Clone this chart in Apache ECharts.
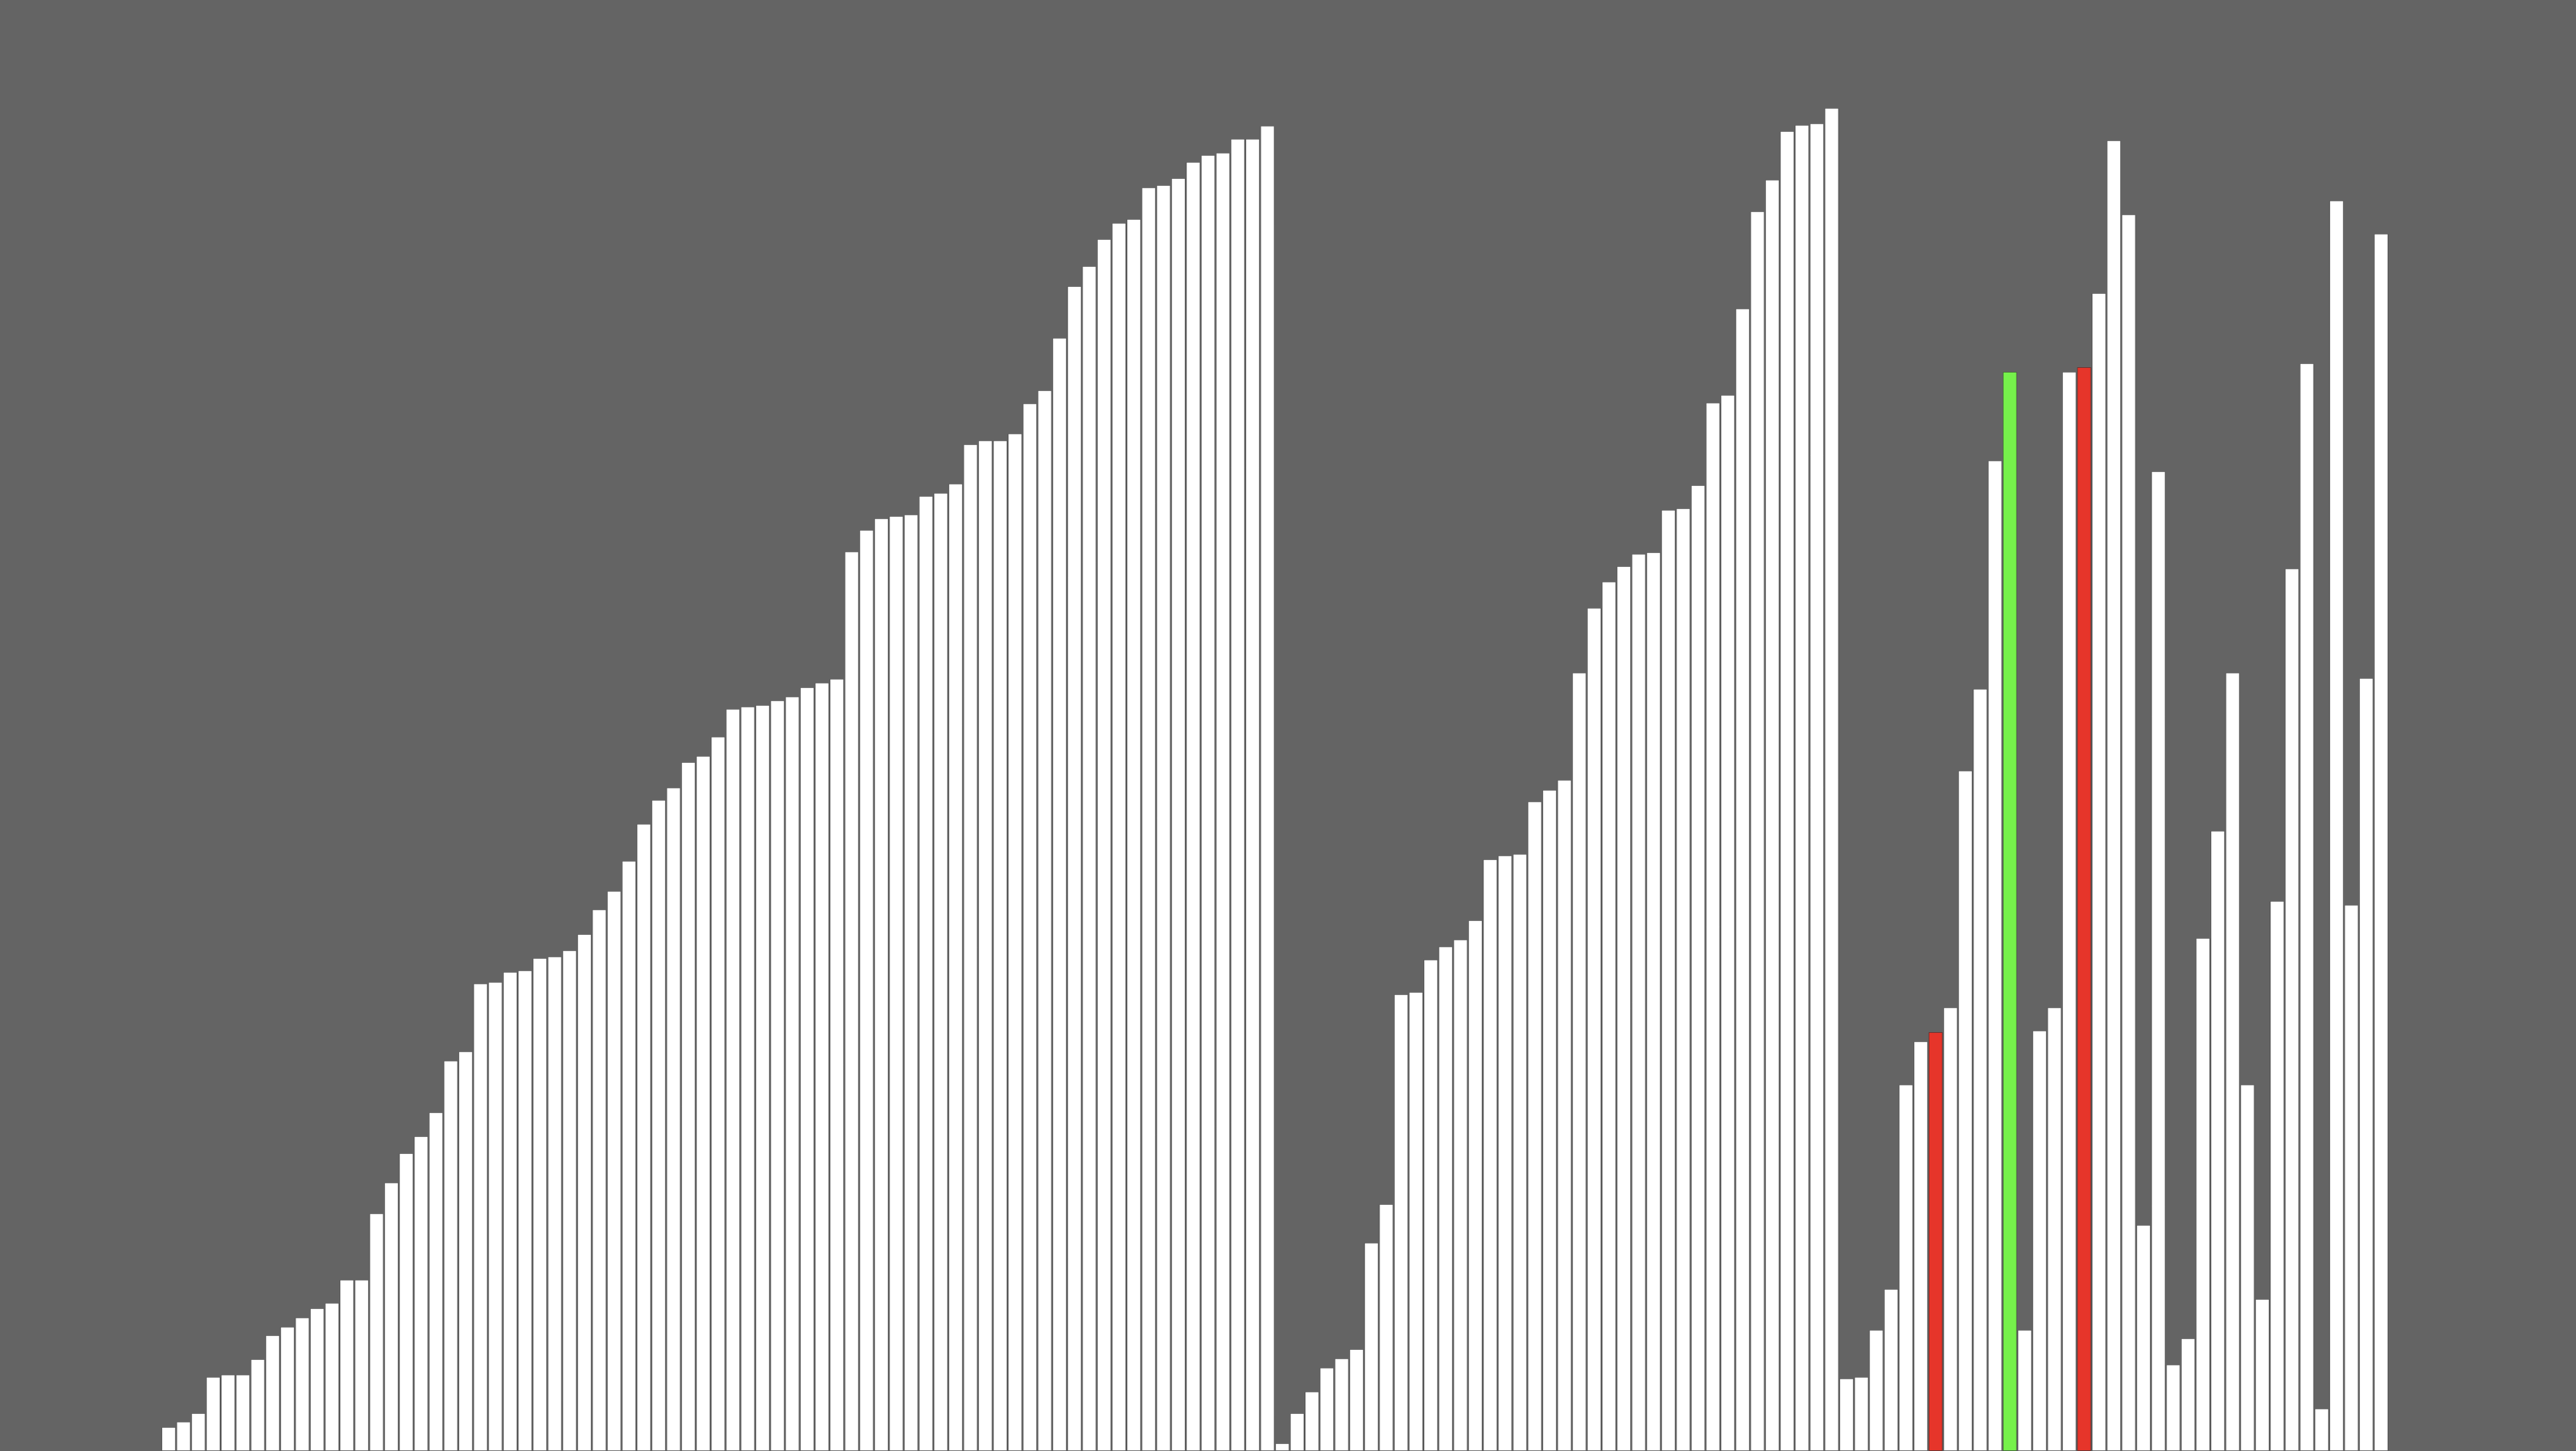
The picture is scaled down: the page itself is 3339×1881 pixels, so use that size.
<!DOCTYPE html>
<html>
<head>
<meta charset="utf-8">
<script src="https://cdn.jsdelivr.net/npm/echarts@6/dist/echarts.min.js"></script>
<style>
  html, body { margin: 0; padding: 0; background: #646464; }
  #chart { width: 3339px; height: 1881px; }
</style>
</head>
<body>
<div id="chart"></div>
<script>
// Bar heights (units: pixels of the 1881-px plot height)
const runSortedA = [31, 38, 49, 96, 99, 99, 119, 150, 161, 173, 185, 192, 222, 222, 308, 348, 386, 408, 439, 506,
  518, 606, 608, 621, 623, 639, 641, 649, 670, 702, 726, 765, 813, 844, 860, 893, 901, 926, 962, 965,
  967, 973, 978, 990, 996, 1001, 1166, 1194, 1209, 1212, 1214, 1238, 1242, 1254, 1305, 1310, 1310, 1319, 1358, 1375,
  1443, 1510, 1536, 1571, 1592, 1597, 1638, 1641, 1650, 1671, 1680, 1683, 1701, 1701, 1718];
const runSortedB = [10, 49, 77, 108, 120, 132, 270, 320, 592, 595, 637, 654, 663, 688, 767, 772, 774, 842, 857, 870,
  1009, 1093, 1127, 1147, 1163, 1165, 1220, 1222, 1252, 1359, 1369, 1481, 1607, 1648, 1711, 1719, 1721, 1741];
const runUnsorted = [94, 96, 157, 210, 475, 531, 543, 575, 882, 988, 1284, 1399, 157, 545, 575, 1399, 1405, 1501, 1699, 1603,
  293, 1270, 112, 146, 665, 804, 1009, 475, 197, 713, 1144, 1410, 55, 1621, 708, 1002, 1578];

const values = runSortedA.concat(runSortedB, runUnsorted);
const categories = values.map((v, i) => String(i + 1));

// highlighted bars (0-based positions)
const redIndices = [119, 129];
const greenIndices = [124];

const plotMax = 1881;
const bgColor = '#646464';
const barColor = '#ffffff';
const redColor = '#e6352a';
const greenColor = '#76f14b';

const seriesData = values.map((v, i) => {
  let c = barColor;
  if (redIndices.includes(i)) c = redColor;
  if (greenIndices.includes(i)) c = greenColor;
  return { value: v, itemStyle: { color: c } };
});

const chart = echarts.init(document.getElementById('chart'), null, { renderer: 'canvas' });
chart.setOption({
  backgroundColor: bgColor,
  animation: false,
  grid: { left: 209, right: 243, top: 0, bottom: -1, containLabel: false },
  xAxis: {
    type: 'category',
    data: categories,
    show: false,
    boundaryGap: true
  },
  yAxis: {
    type: 'value',
    min: 0,
    max: plotMax,
    show: false,
    splitLine: { show: false }
  },
  series: [{
    type: 'bar',
    data: seriesData,
    barCategoryGap: '5%',
    itemStyle: {
      borderColor: 'rgba(0,0,0,0.3)',
      borderWidth: 1
    }
  }]
});
</script>
</body>
</html>
